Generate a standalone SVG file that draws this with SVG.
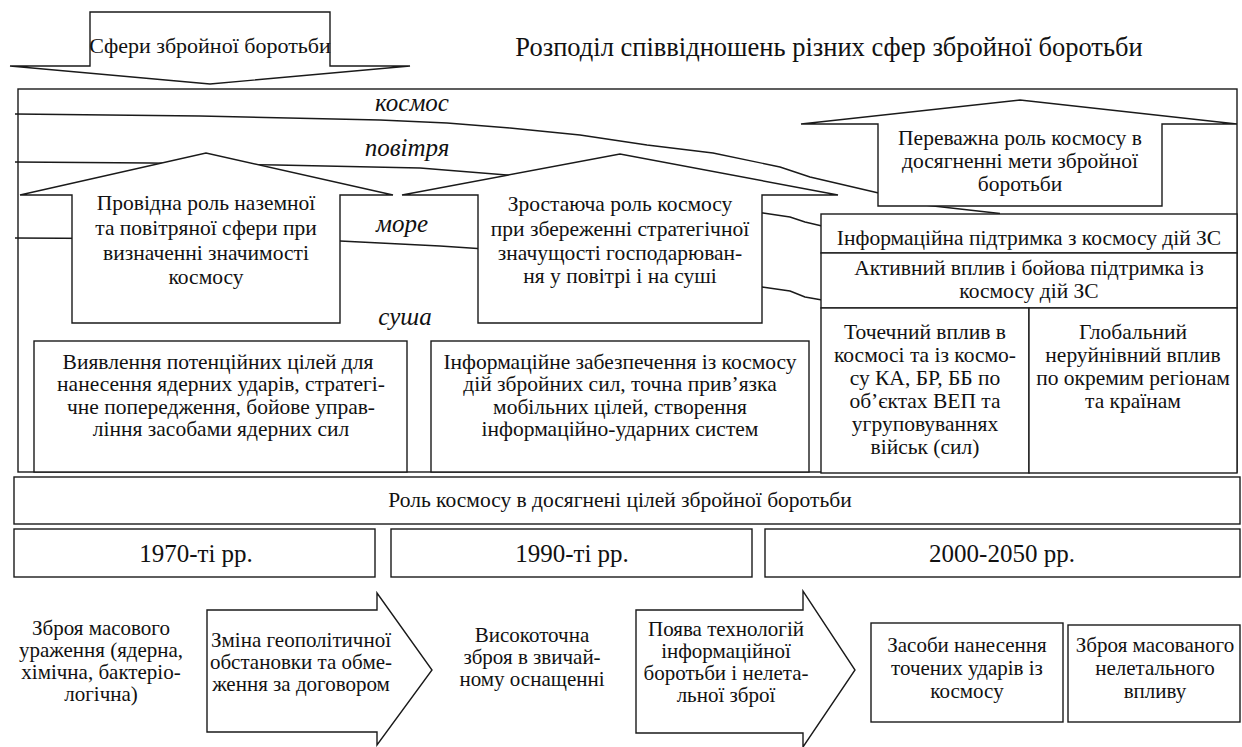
<svg xmlns="http://www.w3.org/2000/svg" width="1242" height="747" viewBox="0 0 1242 747" font-family="'Liberation Serif', 'DejaVu Serif', serif">
<style>
.s{fill:#fff;stroke:#1a1a1a;stroke-width:1.4}
.ln{fill:none;stroke:#1a1a1a;stroke-width:1.4;stroke-linejoin:round}
text{font-family:'Liberation Serif','DejaVu Serif',serif;fill:#111;text-anchor:middle}
.t{font-size:21.5px}
.b{font-size:21px}
.i{font-size:25px;font-style:italic}
.p{font-size:25px}
.h{font-size:26.5px}
</style>
<rect width="1242" height="747" fill="#fff"/>
<g id="top-arrow">
<polygon class="s" points="90,12 330,12 330,66 410,66 210,84 10,66 90,66"/>
<text x="210" y="53" style="font-size:22px">Сфери збройної боротьби</text>
</g>
<g id="title"><text class="h" x="829" y="56">Розподіл співвідношень різних сфер збройної боротьби</text></g>
<g id="frame"><rect class="s" x="18" y="89" width="1219" height="383"/></g>
<g id="connectors">
<polyline class="ln" points="15,114 200,116 380,120 447,123 510,128 580,135 647,145 713,153 780,167 810,177 900,198"/>
<polyline class="ln" points="15,162 150,163 277,165 420,168 520,176 600,186"/>
<polyline class="ln" points="15,238 200,239 340,241 380,243 440,246 500,250 740,212 763,213 790,217 805,222 822,226"/>
<polyline class="ln" points="740,286 762,287 790,291 805,297 822,300"/>
<polyline class="ln" points="880,200 1000,213.5"/>
</g>
<g id="labels">
<text class="i" x="412" y="111">космос</text>
<text class="i" x="407" y="156">повітря</text>
<text class="i" x="402" y="232">море</text>
<text class="i" x="405" y="325">суша</text>
</g>
<g id="arrow-1">
<polygon class="s" points="20,195 206,153 393,195 340,195 340,323 72,323 72,195"/>
<text class="t" x="206" y="210">Провідна роль наземної</text>
<text class="t" x="206" y="235">та повітряної сфери при</text>
<text class="t" x="206" y="260">визначенні значимості</text>
<text class="t" x="206" y="284">космосу</text>
</g>
<g id="arrow-2">
<polygon class="s" points="402,195 620,154 838,195 762,195 762,323 478,323 478,195"/>
<text class="t" x="620" y="211">Зростаюча роль космосу</text>
<text class="t" x="620" y="236">при збереженні стратегічної</text>
<text class="t" x="620" y="260">значущості господарюван-</text>
<text class="t" x="620" y="283">ня у повітрі і на суші</text>
</g>
<g id="arrow-3">
<polygon class="s" points="801,124 1020,100 1237,124 1162,124 1162,206 878,206 878,124"/>
<text class="t" x="1020" y="145">Переважна роль космосу в</text>
<text class="t" x="1020" y="168">досягненні мети збройної</text>
<text class="t" x="1020" y="191">боротьби</text>
</g>
<g id="box-info">
<rect class="s" x="821" y="214" width="416" height="39"/>
<text class="t" x="1029" y="245">Інформаційна підтримка з космосу дій ЗС</text>
</g>
<g id="box-active">
<rect class="s" x="821" y="253" width="416" height="55"/>
<text class="t" x="1029" y="275">Активний вплив і бойова підтримка із</text>
<text class="t" x="1029" y="298">космосу дій ЗС</text>
</g>
<g id="box-point">
<rect class="s" x="821" y="308" width="208" height="165"/>
<text class="t" x="925" y="339">Точечний вплив в</text>
<text class="t" x="925" y="362">космосі  та із космо-</text>
<text class="t" x="925" y="385">су КА, БР, ББ по</text>
<text class="t" x="925" y="408">об’єктах ВЕП та</text>
<text class="t" x="925" y="431">угруповуваннях</text>
<text class="t" x="925" y="454">військ (сил)</text>
</g>
<g id="box-global">
<rect class="s" x="1029" y="308" width="208" height="165"/>
<text class="t" x="1133" y="339">Глобальний</text>
<text class="t" x="1133" y="362">неруйнівний вплив</text>
<text class="t" x="1133" y="385">по окремим регіонам</text>
<text class="t" x="1133" y="408">та країнам</text>
</g>
<g id="box-detect">
<rect class="s" x="34" y="341" width="373" height="131"/>
<text class="t" x="218" y="369">Виявлення потенційних цілей для</text>
<text class="t" x="221" y="391">нанесення ядерних ударів, стратегі-</text>
<text class="t" x="221" y="414">чне попередження, бойове управ-</text>
<text class="t" x="221" y="436">ління засобами ядерних сил</text>
</g>
<g id="box-infosupport">
<rect class="s" x="431" y="341" width="378" height="131"/>
<text class="t" x="620" y="369">Інформаційне забезпечення  із космосу</text>
<text class="t" x="620" y="391">дій збройних сил, точна прив’язка</text>
<text class="t" x="620" y="414">мобільних цілей, створення</text>
<text class="t" x="620" y="436">інформаційно-ударних систем</text>
</g>
<g id="box-role">
<rect class="s" x="14" y="477" width="1226" height="47"/>
<text class="t" x="620" y="507">Роль космосу в досягнені цілей збройної боротьби</text>
</g>
<g id="period-1970"><rect class="s" x="14" y="529" width="361" height="48"/><text class="p" x="196" y="562">1970-ті рр.</text></g>
<g id="period-1990"><rect class="s" x="391" y="529" width="361" height="48"/><text class="p" x="572" y="562">1990-ті рр.</text></g>
<g id="period-2000"><rect class="s" x="765" y="529" width="475" height="48"/><text class="p" x="1002" y="562">2000-2050 рр.</text></g>
<g id="wmd">
<text class="b" x="101" y="635">Зброя масового</text>
<text class="b" x="101" y="657">ураження (ядерна,</text>
<text class="b" x="101" y="679">хімічна, бактеріо-</text>
<text class="b" x="101" y="701">логічна)</text>
</g>
<g id="arrow-geo">
<polygon class="s" points="207,610 377,610 377,593 432,670 377,745 377,732 207,732"/>
<text class="b" x="301" y="647">Зміна геополітичної</text>
<text class="b" x="301" y="669">обстановки та обме-</text>
<text class="b" x="301" y="691">ження за договором</text>
</g>
<g id="precision">
<text class="b" x="532" y="642">Високоточна</text>
<text class="b" x="532" y="664">зброя  в звичай-</text>
<text class="b" x="532" y="686">ному оснащенні</text>
</g>
<g id="arrow-tech">
<polygon class="s" points="636,610 803,610 803,591 855,670 803,747 803,733 636,733"/>
<text class="b" x="726" y="636">Поява технологій</text>
<text class="b" x="726" y="658">інформаційної</text>
<text class="b" x="726" y="680">боротьби і нелета-</text>
<text class="b" x="726" y="702">льної зброї</text>
</g>
<g id="box-strike">
<rect class="s" x="871" y="623" width="192" height="99"/>
<text class="b" x="967" y="652">Засоби нанесення</text>
<text class="b" x="967" y="675">точених ударів із</text>
<text class="b" x="967" y="698">космосу</text>
</g>
<g id="box-nonlethal">
<rect class="s" x="1068" y="625" width="172" height="97"/>
<text class="b" x="1155" y="652">Зброя масованого</text>
<text class="b" x="1155" y="675">нелетального</text>
<text class="b" x="1155" y="698">впливу</text>
</g>
</svg>
